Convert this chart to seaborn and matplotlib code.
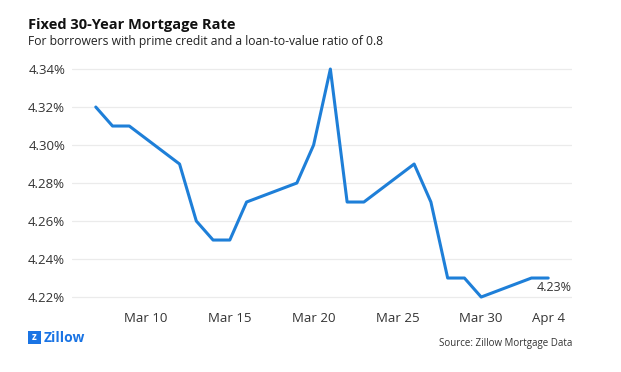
import pandas as pd
import numpy as np
from matplotlib import pyplot as plt
import matplotlib.dates as mdates
from matplotlib.patches import Rectangle
import seaborn as sns

# daily rates (business days only, 2018)
dates = ["2018-03-07", "2018-03-08", "2018-03-09", "2018-03-12", "2018-03-13",
         "2018-03-14", "2018-03-15", "2018-03-16", "2018-03-19", "2018-03-20",
         "2018-03-21", "2018-03-22", "2018-03-23", "2018-03-26", "2018-03-27",
         "2018-03-28", "2018-03-29", "2018-03-30", "2018-04-02", "2018-04-03"]
rates = [4.32, 4.31, 4.31, 4.29, 4.26,
         4.25, 4.25, 4.27, 4.28, 4.30,
         4.34, 4.27, 4.27, 4.29, 4.27,
         4.23, 4.23, 4.22, 4.23, 4.23]
tick_dates = ["2018-03-10", "2018-03-15", "2018-03-20", "2018-03-25", "2018-03-30", "2018-04-04"]
y_ticks = [4.22, 4.24, 4.26, 4.28, 4.30, 4.32, 4.34]

LINE = "#1e7fd8"
TXT = "#333333"


def main():
    df = pd.DataFrame({"date": pd.to_datetime(dates), "rate": rates})

    sns.set_style("white")
    plt.rcParams["font.family"] = ["Open Sans", "DejaVu Sans"]

    fig = plt.figure(figsize=(6.21, 3.72), dpi=100)
    ax = fig.add_axes([0.116, 0.176, 0.805, 0.664])

    sns.lineplot(data=df, x="date", y="rate", color=LINE, linewidth=2.2, ax=ax)

    ax.set_ylim(4.215, 4.345)
    ax.set_xlim(pd.Timestamp("2018-03-05 14:00"), pd.Timestamp("2018-04-04 10:00"))
    ax.set_yticks(y_ticks)
    ax.set_yticklabels([f"{v:.2f}%" for v in y_ticks])
    ax.set_xticks(pd.to_datetime(tick_dates))
    ax.xaxis.set_major_formatter(mdates.DateFormatter("%b %-d"))
    ax.tick_params(axis="both", length=0, labelsize=9.5, colors=TXT)
    ax.tick_params(axis="y", pad=5)
    ax.tick_params(axis="x", pad=4)
    ax.grid(axis="y", color="#ebebeb", linewidth=0.9)
    ax.grid(axis="x", visible=False)
    for s in ax.spines.values():
        s.set_visible(False)
    ax.set_xlabel("")
    ax.set_ylabel("")
    # last date label sits a little left in the original
    ax.get_xticklabels()[-1].set_horizontalalignment("right")
    ax.get_xticklabels()[-1].set_x(pd.Timestamp("2018-04-04"))

    ax.annotate(f"{rates[-1]:.2f}%", xy=(df["date"].iloc[-1], rates[-1]),
                xytext=(23, -3), textcoords="offset pixels",
                ha="right", va="top", fontsize=9, color=TXT)

    fig.text(0.045, 0.932, "Fixed 30-Year Mortgage Rate", fontsize=10.5,
             fontweight="bold", color="#111111", va="center")
    fig.text(0.045, 0.888, "For borrowers with prime credit and a loan-to-value ratio of 0.8",
             fontsize=8.7, color="#222222", va="center")

    # zillow mark
    fig.patches.append(Rectangle((0.045, 0.074), 0.021, 0.036, transform=fig.transFigure,
                                 facecolor="#1a74e4", edgecolor="none"))
    fig.text(0.0555, 0.092, "z", fontsize=7, color="white", ha="center", va="center",
             fontweight="bold")
    fig.text(0.070, 0.092, "Zillow", fontsize=10, fontweight="bold", color="#1a74e4",
             va="center")
    fig.text(0.921, 0.077, "Source: Zillow Mortgage Data", fontsize=7, color=TXT,
             ha="right", va="center")

    fig.savefig("out.png", dpi=100)


if __name__ == "__main__":
    main()
